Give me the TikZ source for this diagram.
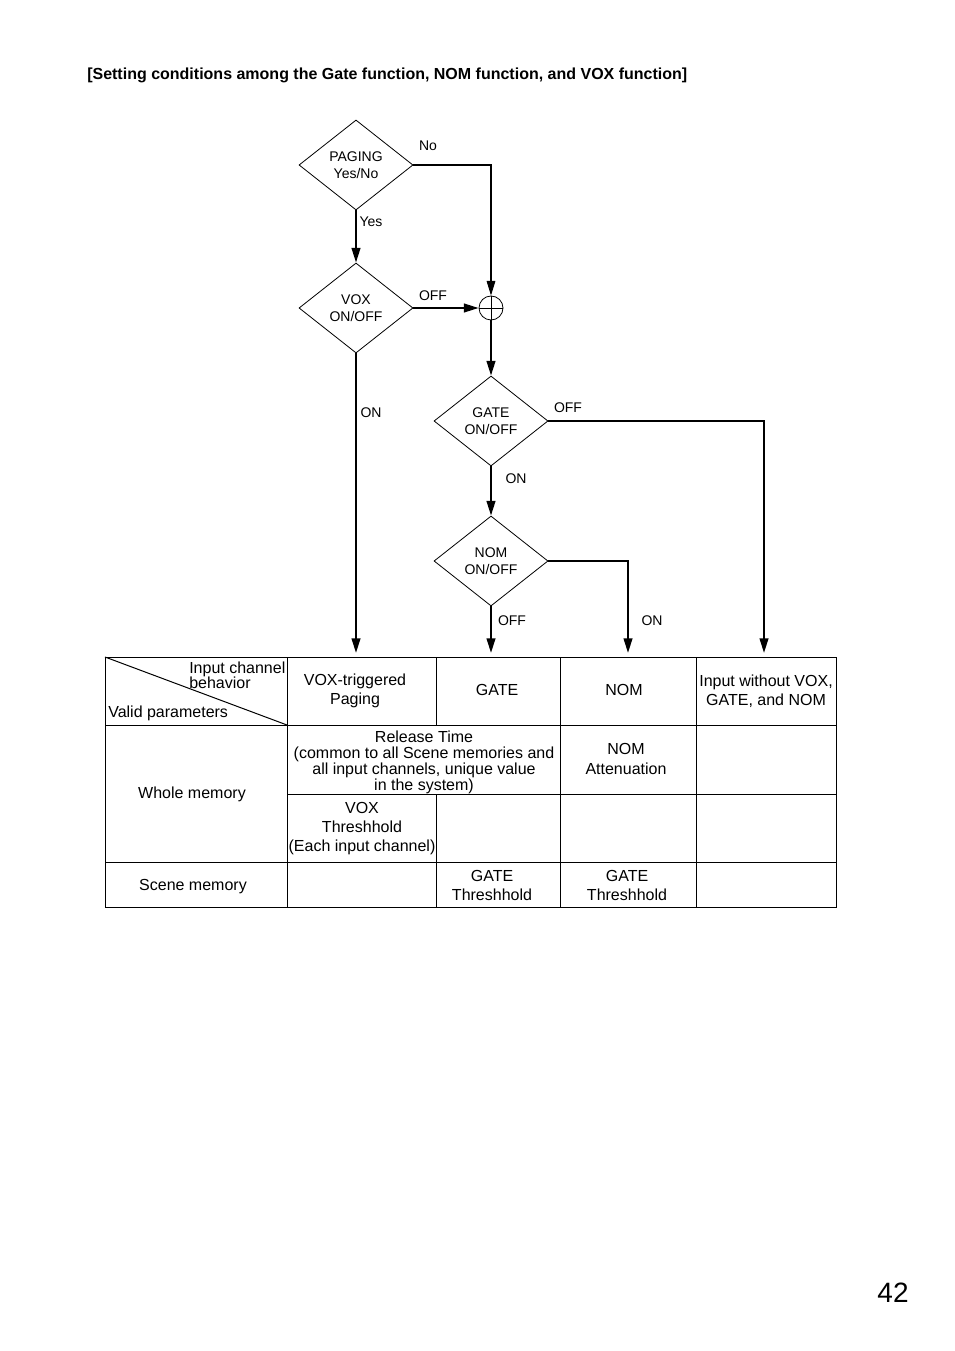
\documentclass[tikz,border=0pt]{standalone}
\usepackage{fontspec}
\setmainfont{Liberation Sans}
\usetikzlibrary{shapes.geometric,arrows.meta}

\tikzset{
  dmd/.style={diamond, draw, line width=0.6pt, minimum width=85.5pt, minimum height=67.5pt,
    inner sep=0pt, align=center, font=\fontsize{10.5}{12.5}\selectfont},
  flow/.style={line width=1.5pt, -{Triangle[length=11pt,width=6.5pt]}},
  lbl/.style={inner sep=0pt, font=\fontsize{10.5}{12.5}\selectfont},
  cell/.style={inner sep=0pt, align=center, font=\fontsize{12}{14.25}\selectfont},
}

\begin{document}
\begin{tikzpicture}[x=0.75pt,y=0.75pt,yscale=-1]
\path [fill=white] (0,0) rectangle (954,1351);

% Text Node
\node [anchor=west, inner sep=0pt, font=\bfseries\fontsize{12}{14}\selectfont] (title) at (87,75) {[Setting conditions among the Gate function, NOM function, and VOX function]};

%Shape: Diamond
\node [dmd] (paging) at (356,165) {PAGING\\Yes/No};
%Shape: Diamond
\node [dmd] (vox) at (356,308) {VOX\\ON/OFF};
%Shape: Diamond
\node [dmd] (gate) at (491,421) {GATE\\ON/OFF};
%Shape: Diamond
\node [dmd] (nom) at (491,561) {NOM\\ON/OFF};
%Shape: Circle
\node [circle, draw, line width=0.6pt, minimum size=18pt, inner sep=0pt] (jn) at (491,308) {};
\draw [line width=0.6pt] (jn.north) -- (jn.south) (jn.west) -- (jn.east);

% arrow ends on the table
\coordinate (tvox) at (356,653);
\coordinate (tgate) at (491,653);
\coordinate (tnom) at (628,653);
\coordinate (tin) at (764,653);

%Straight Lines
\draw [flow, line width=0.8pt] (paging.east) -| (jn.north);
\draw [flow] (paging.south) -- (vox.north);
\draw [flow] (vox.east) -- (jn.west);
\draw [flow] (jn.south) -- (gate.north);
\draw [flow] (vox.south) -- (tvox);
\draw [flow] (gate.east) -| (tin);
\draw [flow] (gate.south) -- (nom.north);
\draw [flow] (nom.east) -| (tnom);
\draw [flow] (nom.south) -- (tgate);

% Text Node
\node [lbl] (lno) at (428,146) {No};
\node [lbl] (lyes) at (371,222) {Yes};
\node [lbl] (lvoxoff) at (433,296) {OFF};
\node [lbl] (lvoxon) at (371,413) {ON};
\node [lbl] (lgateoff) at (568,408) {OFF};
\node [lbl] (lgateon) at (516,479) {ON};
\node [lbl] (lnomoff) at (512,621) {OFF};
\node [lbl] (lnomon) at (652,621) {ON};

%Shape: Table
\draw [line width=0.75pt] (105,657) rectangle (836,907);
\draw [line width=0.75pt] (105,725) -- (836,725) (287,794) -- (836,794) (105,862) -- (836,862);
\draw [line width=0.75pt] (287,657) -- (287,907) (436,657) -- (436,725) (436,794) -- (436,907)
  (560,657) -- (560,907) (696,657) -- (696,907);
\draw [line width=0.75pt] (105,657) -- (287,725);

% Text Node
\node [cell, anchor=west, align=left, font=\fontsize{12}{11.25}\selectfont] (hin) at (189,675) {Input channel\\behavior};
\node [cell, anchor=west] (hvalid) at (108,713) {Valid parameters};
\node [cell] (hvox) at (355,691) {VOX-triggered\\Paging};
\node [cell] (hgate) at (497,690) {GATE};
\node [cell] (hnom) at (624,690) {NOM};
\node [cell] (hinput) at (766,691) {Input without VOX,\\GATE, and NOM};
\node [cell] (whole) at (192,794) {Whole memory};
\node [cell, font=\fontsize{12}{12}\selectfont] (release) at (424,762) {Release Time\\(common to all Scene memories and\\all input channels, unique value\\in the system)};
\node [cell, font=\fontsize{12}{15}\selectfont] (nomatt) at (626,759) {NOM\\Attenuation};
\node [cell] (voxth) at (362,829) {VOX\\Threshhold\\(Each input channel)};
\node [cell] (scene) at (193,887) {Scene memory};
\node [cell] (gateth) at (492,885) {GATE\\Threshhold};
\node [cell] (gateth2) at (627,885) {GATE\\Threshhold};

% Text Node
\node [inner sep=0pt, font=\fontsize{21}{24}\selectfont] (pgno) at (893,1293) {42};

\end{tikzpicture}
\end{document}
